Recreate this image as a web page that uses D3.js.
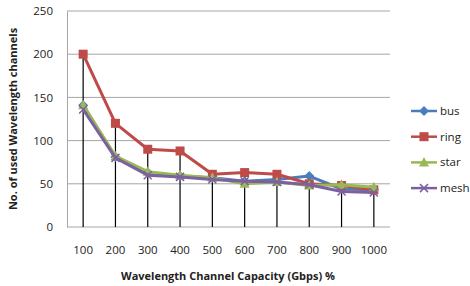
<!DOCTYPE html>
<html>
<head>
<meta charset="utf-8">
<script src="https://cdn.jsdelivr.net/npm/d3@7"></script>
<style>
  body { margin: 0; background: #fff; }
  svg { display: block; font-family: "Open Sans", "Liberation Sans", sans-serif; }
</style>
</head>
<body>
<svg width="470" height="286"></svg>
<script>
var categories = ["100", "200", "300", "400", "500", "600", "700", "800", "900", "1000"];
var bus  = [141, 81, 63, 59, 57, 53, 55, 59, 44, 43];
var ring = [200, 120, 90, 88, 61, 63, 61, 50, 48, 43];
var star = [141, 82, 64, 60, 57, 50, 52, 48, 49, 46];
var mesh = [136, 80, 60, 58, 55, 53, 52, 49, 41, 40];
var yTicks = [0, 50, 100, 150, 200, 250];

var series = [
  {name: "bus", values: bus, color: "#4a7ebb", marker: "diamond"},
  {name: "ring", values: ring, color: "#be4b48", marker: "square"},
  {name: "star", values: star, color: "#98b954", marker: "triangle"},
  {name: "mesh", values: mesh, color: "#7d60a0", marker: "cross"}
];

var svg = d3.select("svg"),
  plotLeft = 67, plotRight = 390, plotTop = 11, plotBottom = 227;

var x = d3.scaleBand().domain(categories).range([plotLeft, plotRight]);
var y = d3.scaleLinear().domain([0, 250]).range([plotBottom, plotTop]);
var cx = function(c) { return x(c) + x.bandwidth() / 2; };

// gridlines
svg.append("g").selectAll("line")
  .data(yTicks.slice(1))
  .enter().append("line")
    .attr("x1", plotLeft).attr("x2", plotRight)
    .attr("y1", function(d) { return y(d); })
    .attr("y2", function(d) { return y(d); })
    .attr("stroke", "#a6a6a6").attr("stroke-width", 1);

// y axis
var yAxis = svg.append("g")
  .attr("transform", "translate(" + plotLeft + ",0)")
  .call(d3.axisLeft(y).tickValues(yTicks).tickSize(0).tickPadding(14));
yAxis.select(".domain").attr("stroke", "#a6a6a6");
yAxis.selectAll("text").attr("font-size", 11.5).attr("fill", "#222")
  .attr("font-family", "'Open Sans', 'Liberation Sans', sans-serif");
svg.append("line")
  .attr("x1", plotLeft).attr("x2", plotRight).attr("y1", plotBottom).attr("y2", plotBottom)
  .attr("stroke", "#a6a6a6");

// x labels
svg.append("g").selectAll("text")
  .data(categories)
  .enter().append("text")
    .attr("x", cx)
    .attr("y", 254)
    .attr("text-anchor", "middle")
    .attr("font-size", 11.5)
    .attr("fill", "#222")
    .text(function(d) { return d; });

// drop lines from highest point
svg.append("g").selectAll("line")
  .data(categories)
  .enter().append("line")
    .attr("x1", cx).attr("x2", cx)
    .attr("y1", function(d, i) {
      return y(d3.max(series, function(s) { return s.values[i]; }));
    })
    .attr("y2", plotBottom)
    .attr("stroke", "#000").attr("stroke-width", 1.2);

var line = d3.line()
  .x(function(d, i) { return cx(categories[i]); })
  .y(function(d) { return y(d); });

function drawMarker(g, type, color) {
  if (type == "diamond") {
    g.append("path").attr("d", "M0,-5L5,0L0,5L-5,0Z").attr("fill", color);
  } else if (type == "square") {
    g.append("rect").attr("x", -4.5).attr("y", -4.5).attr("width", 9).attr("height", 9).attr("fill", color);
  } else if (type == "triangle") {
    g.append("path").attr("d", "M0,-5.5L5,4L-5,4Z").attr("fill", color);
  } else {
    g.append("path").attr("d", "M-4,-4L4,4M-4,4L4,-4").attr("stroke", color).attr("stroke-width", 1.5);
  }
}

series.forEach(function(s) {
  var g = svg.append("g");
  g.append("path")
    .attr("d", line(s.values))
    .attr("fill", "none")
    .attr("stroke", s.color)
    .attr("stroke-width", 3)
    .attr("stroke-linejoin", "round");
  s.values.forEach(function(v, i) {
    var m = g.append("g").attr("transform", "translate(" + cx(categories[i]) + "," + y(v) + ")");
    drawMarker(m, s.marker, s.color);
  });
});

// legend
var legend = svg.append("g");
series.forEach(function(s, i) {
  var ly = 111 + i * 25.7;
  var lg = legend.append("g");
  lg.append("line")
    .attr("x1", 411).attr("x2", 437).attr("y1", ly).attr("y2", ly)
    .attr("stroke", s.color).attr("stroke-width", 2.5);
  drawMarker(lg.append("g").attr("transform", "translate(424," + ly + ")"), s.marker, s.color);
  lg.append("text")
    .attr("x", 440).attr("y", ly + 4)
    .attr("font-size", 11.5).attr("fill", "#222")
    .text(s.name);
});

// axis titles
svg.append("text")
  .attr("x", 228).attr("y", 280)
  .attr("text-anchor", "middle")
  .attr("font-size", 11).attr("font-weight", "bold").attr("fill", "#222")
  .text("Wavelength Channel Capacity (Gbps) %");

svg.append("text")
  .attr("transform", "translate(17,119) rotate(-90)")
  .attr("text-anchor", "middle")
  .attr("font-size", 11).attr("font-weight", "bold").attr("fill", "#222")
  .text("No. of used Wavelength channels");
</script>
</body>
</html>
